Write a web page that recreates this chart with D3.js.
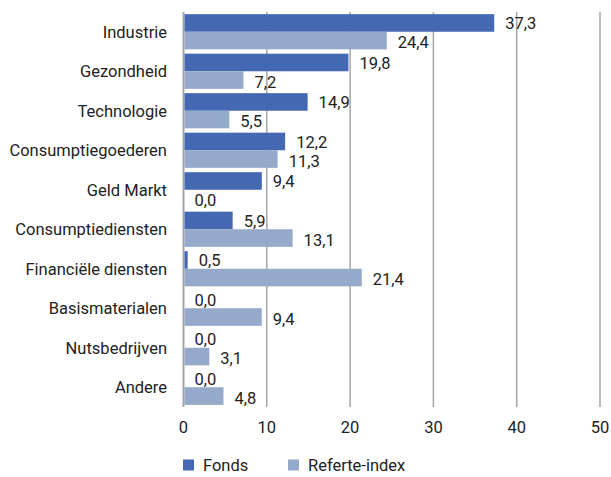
<!DOCTYPE html>
<html>
<head>
<meta charset="utf-8">
<script src="https://cdn.jsdelivr.net/npm/d3@7"></script>
<style>
  body { margin: 0; background: #fff; }
  text { font-family: Roboto, "Noto Sans", sans-serif; fill: #222; }
</style>
</head>
<body>
<div id="chart"></div>
<script>
// sector weights, fund vs benchmark
var categories = ["Industrie", "Gezondheid", "Technologie", "Consumptiegoederen", "Geld Markt",
  "Consumptiediensten", "Financiële diensten", "Basismaterialen", "Nutsbedrijven", "Andere"]
var fonds = [37.3, 19.8, 14.9, 12.2, 9.4, 5.9, 0.5, 0.0, 0.0, 0.0]
var referte = [24.4, 7.2, 5.5, 11.3, 0.0, 13.1, 21.4, 9.4, 3.1, 4.8]
var ticks = [0, 10, 20, 30, 40, 50]
var seriesNames = ["Fonds", "Referte-index"]
var colors = ["#4468b1", "#95a9cb"]

var width = 611, height = 477
var fs = 16.5
var svg = d3.select("#chart").append("svg")
  .attr("width", width).attr("height", height)

var x = d3.scaleLinear().domain([0, 50]).range([183.5, 600])
var y = d3.scaleBand().domain(categories).range([12, 407]).paddingInner(0.11).paddingOuter(0.055)
var half = y.bandwidth() / 2

// gridlines
svg.selectAll("line.grid")
  .data(ticks)
  .enter()
  .append("line")
  .attr("x1", function(d) { return x(d) })
  .attr("x2", function(d) { return x(d) })
  .attr("y1", 12)
  .attr("y2", 407)
  .attr("stroke", "#a6a6a6")
  .attr("stroke-width", function(d) { return d === 0 ? 2 : 1.5 })

// tick labels
svg.selectAll("text.tick")
  .data(ticks)
  .enter()
  .append("text")
  .attr("x", function(d) { return x(d) })
  .attr("y", 427)
  .attr("dy", "0.35em")
  .attr("text-anchor", "middle")
  .attr("font-size", fs)
  .text(function(d) { return d })

// category labels
svg.selectAll("text.cat")
  .data(categories)
  .enter()
  .append("text")
  .attr("x", 167)
  .attr("y", function(d) { return y(d) + y.bandwidth() / 2 })
  .attr("dy", "0.35em")
  .attr("text-anchor", "end")
  .attr("font-size", fs)
  .text(function(d) { return d })

var fmt = function(v) { return v.toFixed(1).replace(".", ",") }

var series = [fonds, referte]
series.forEach(function(vals, s) {
  var rows = categories.map(function(c, i) { return { cat: c, v: vals[i] } })
  svg.selectAll("rect.s" + s)
    .data(rows)
    .enter()
    .append("rect")
    .attr("x", x(0) + 1)
    .attr("y", function(d) { return y(d.cat) + s * half })
    .attr("width", function(d) { return Math.max(0, x(d.v) - x(0) - 1) })
    .attr("height", half)
    .attr("fill", colors[s])
  svg.selectAll("text.l" + s)
    .data(rows)
    .enter()
    .append("text")
    .attr("x", function(d) { return x(d.v) + 11 })
    .attr("y", function(d) { return y(d.cat) + s * half + half / 2 + (s ? 2 : 0.5) })
    .attr("dy", "0.35em")
    .attr("font-size", fs)
    .text(function(d) { return fmt(d.v) })
})

// legend
var legendX = [183, 288]
var legend = svg.selectAll("g.legend")
  .data(seriesNames)
  .enter()
  .append("g")
  .attr("transform", function(d, i) { return "translate(" + legendX[i] + ",465)" })
legend.append("rect")
  .attr("x", 0).attr("y", -5.5)
  .attr("width", 11).attr("height", 11)
  .attr("fill", function(d, i) { return colors[i] })
legend.append("text")
  .attr("x", 20)
  .attr("dy", "0.35em")
  .attr("font-size", fs)
  .text(function(d) { return d })
</script>
</body>
</html>
